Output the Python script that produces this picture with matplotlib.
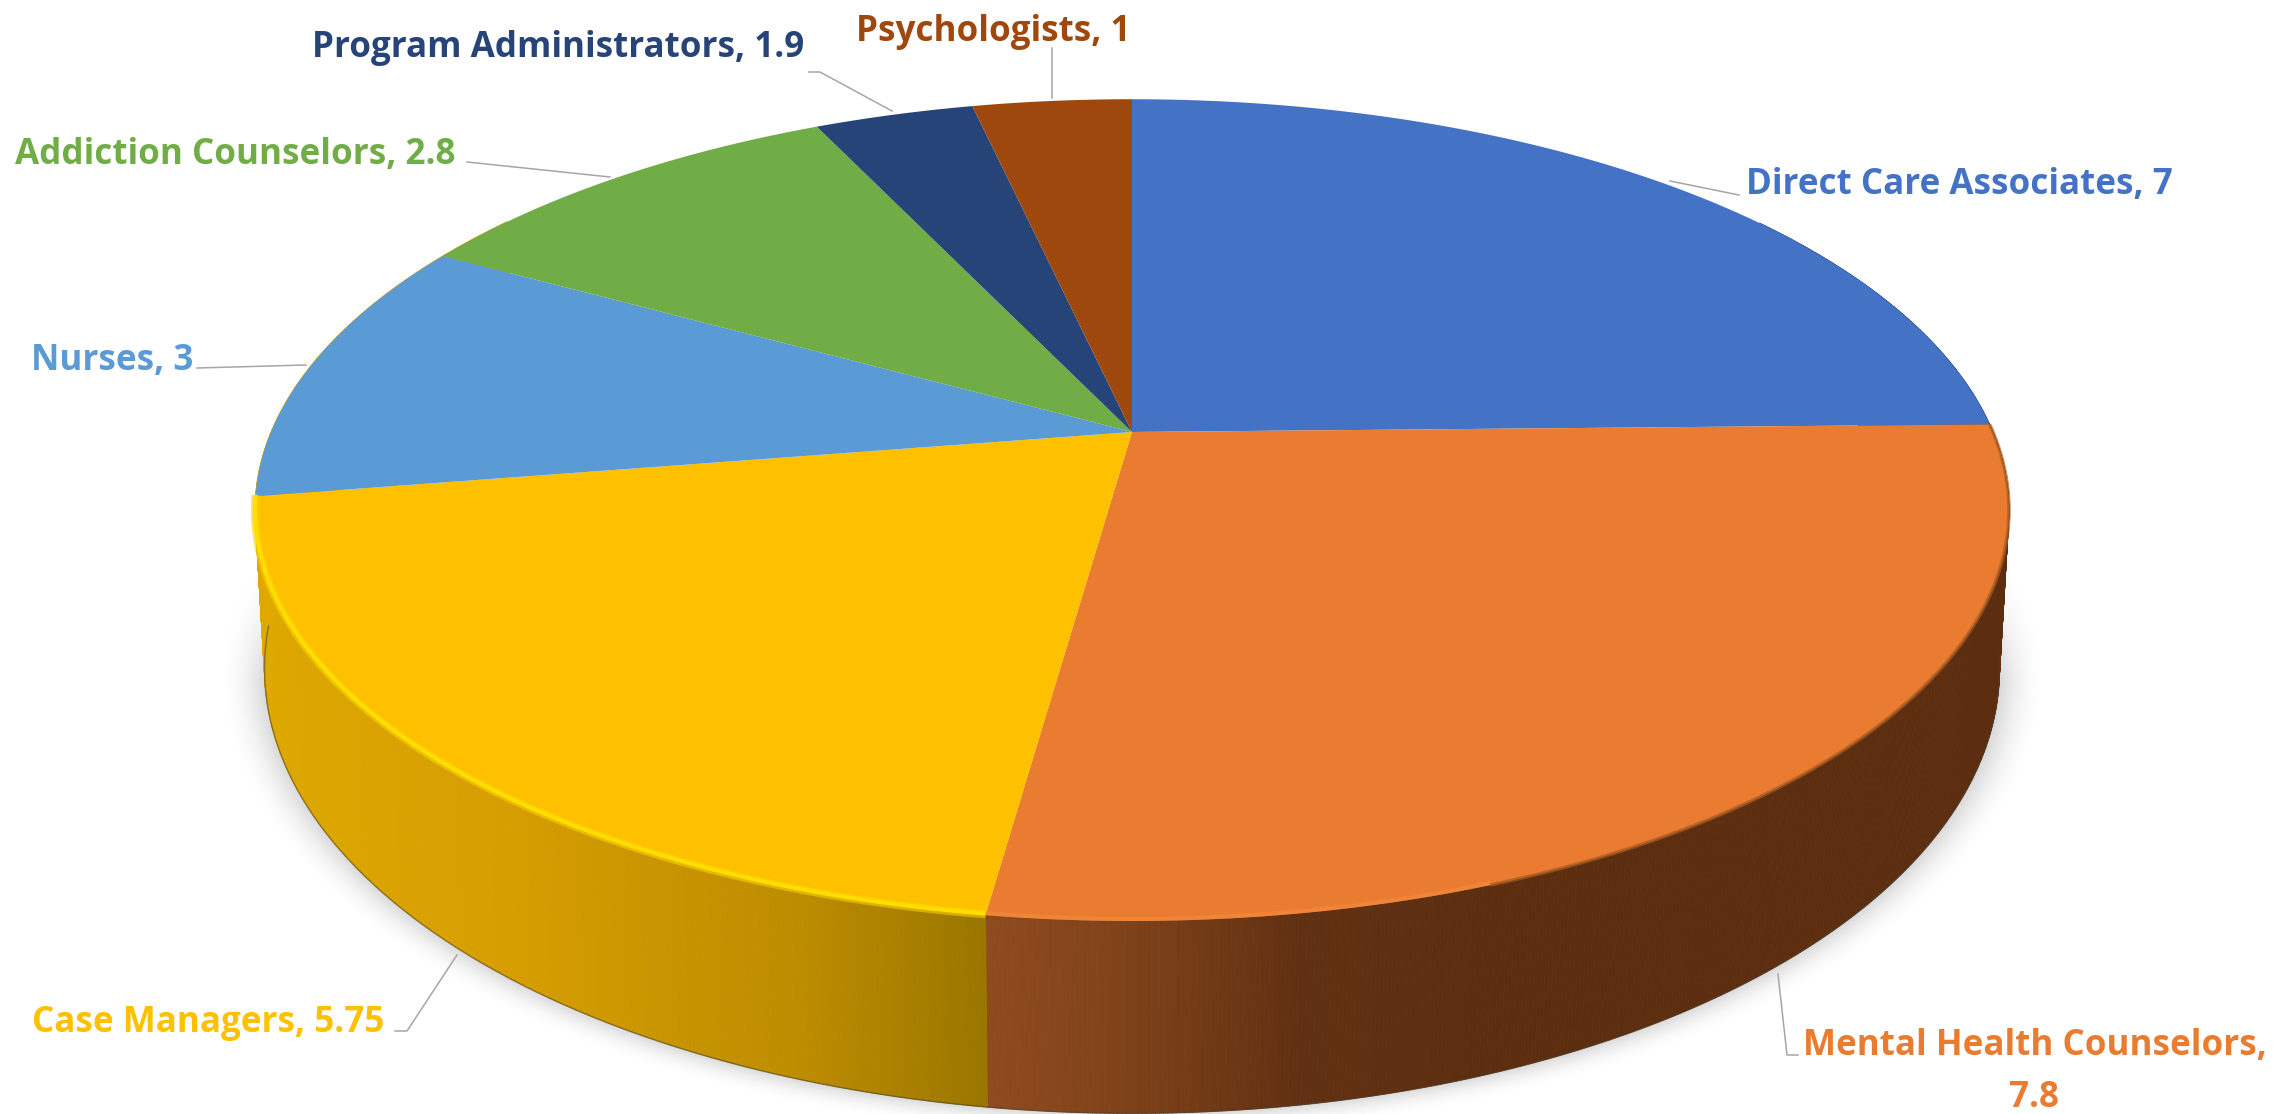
import numpy as np
import matplotlib
matplotlib.use("Agg")
import matplotlib.pyplot as plt
from matplotlib.collections import PolyCollection
from matplotlib.colors import to_rgb

categories = ["Direct Care Associates", "Mental Health Counselors", "Case Managers",
              "Nurses", "Addiction Counselors", "Program Administrators", "Psychologists"]
label_values = ["7", "7.8", "5.75", "3", "2.8", "1.9", "1"]
# the wedge of Program Administrators is drawn the same size as Psychologists in the picture
slice_values = [7, 7.8, 5.75, 3, 2.8, 1, 1]
colors = ["#4472C4", "#E97C30", "#FFC000", "#5B9BD5", "#70AD47", "#264478", "#9E480E"]

W, H = 2295, 1114

# perspective of the two discs: centre x, apex y, half width, depth, tilt
TOP = (1132, 432, 861, 396, 0.19)
BOTTOM = (1132, 585, 852, 429, 0.188)


def project(theta, disc):
    cx, cy, a, b, k = disc
    s, c = np.sin(theta), np.cos(theta)
    return cx + a * s / (1 + k * c), cy - b * c / (1 + k * c)


def wall_color(x, i):
    if i == 1:
        stops = [990, 1120, 1300, 1500, 2020]
        return (np.interp(x, stops, [0.56, 0.50, 0.38, 0.36, 0.36]),
                np.interp(x, stops, [0.29, 0.26, 0.19, 0.18, 0.18]),
                np.interp(x, stops, [0.12, 0.10, 0.07, 0.06, 0.06]))
    if i >= 2:
        stops = [250, 500, 800, 990]
        return (np.interp(x, stops, [0.87, 0.84, 0.74, 0.60]),
                np.interp(x, stops, [0.66, 0.62, 0.55, 0.46]), 0.0)
    return tuple(0.55 * v for v in to_rgb(colors[i]))


def draw_shadow(ax):
    xx, yy = np.meshgrid(np.arange(0, W, 2), np.arange(0, H, 2))
    r = np.sqrt(((xx - 1132) / 868.0) ** 2 + ((yy - 668) / 444.0) ** 2)
    f = np.clip(1 - (r - 1) / 0.055, 0, 1) ** 2
    f *= np.clip((yy - 560) / 120.0, 0, 1)
    ax.imshow(1 - 0.15 * f, cmap="gray", vmin=0, vmax=1, extent=(0, W, H, 0),
              interpolation="bilinear", zorder=0, aspect="auto")


def draw_pie(ax):
    angles = np.cumsum([0] + slice_values) / sum(slice_values) * 2 * np.pi

    # side wall, thin strips so the shading can follow x
    quads, face = [], []
    for i in range(len(slice_values)):
        steps = np.arange(angles[i], angles[i + 1], 0.004)
        steps = np.append(steps, angles[i + 1])
        for t0, t1 in zip(steps[:-1], steps[1:]):
            if not (np.pi * 0.3 < t0 < np.pi * 1.7):
                continue
            x0, y0 = project(t0, TOP)
            x1, y1 = project(t1, TOP)
            x2, y2 = project(t1, BOTTOM)
            x3, y3 = project(t0, BOTTOM)
            quads.append([(x0, y0), (x1, y1), (x2, y2), (x3, y3)])
            face.append(wall_color((x0 + x1) / 2, i))
    ax.add_collection(PolyCollection(quads, facecolors=face, edgecolors=face, linewidths=0.6, zorder=2))

    t = np.linspace(np.pi * 0.55, np.pi * 1.47, 300)
    bx, by = project(t, BOTTOM)
    ax.plot(bx, by, color="#4A4030", lw=1.0, alpha=0.55, zorder=3)

    # top face
    for i in range(len(slice_values)):
        t = np.linspace(angles[i], angles[i + 1], 200)
        x, y = project(t, TOP)
        ax.fill(np.r_[TOP[0], x], np.r_[TOP[1], y], color=colors[i], lw=0, zorder=4)

    # bevel along the front rim
    t = np.linspace(angles[2], angles[3], 300)
    x, y = project(t, TOP)
    ax.plot(x, y - 1, color="#FFD000", lw=6, alpha=0.6, zorder=5, solid_capstyle="butt")
    ax.plot(x, y - 1.5, color="#FFE000", lw=3, alpha=0.95, zorder=5, solid_capstyle="butt")
    t = np.linspace(np.radians(160), angles[2], 80)
    x, y = project(t, TOP)
    ax.plot(x, y - 2, color="#F58A3C", lw=3, alpha=0.6, zorder=5, solid_capstyle="butt")
    # soft edge where the orange top meets the dark wall
    t = np.linspace(angles[1], np.radians(160), 200)
    x, y = project(t, TOP)
    ax.plot(x, y, color="#A85A22", lw=2.5, alpha=0.7, zorder=5, solid_capstyle="butt")


def draw_labels(ax):
    font = dict(family="Open Sans", fontsize=25.2, fontweight="bold", va="center")
    spots = [(1746, 185), (1803, 1046), (32, 1023), (31, 361), (15, 155), (312, 48), (856, 32)]
    for i, name in enumerate(categories):
        text = f"{name}, {label_values[i]}"
        ax.text(spots[i][0], spots[i][1], text if i != 1 else name + ",", color=colors[i], ha="left", **font)
    ax.text(2034, 1098, label_values[1], color=colors[1], ha="center", **font)

    leaders = [[(1670, 181), (1739, 195)],
               [(1778, 974), (1787, 1055), (1798, 1055)],
               [(395, 1031), (407, 1031), (457, 955)],
               [(197, 368), (306, 365)],
               [(467, 162), (610, 177)],
               [(809, 72), (820, 72), (892, 111)],
               [(1052, 48), (1052, 98)]]
    for pts in leaders:
        ax.plot(*zip(*pts), color="#A6A6A6", lw=1.1, zorder=6)


fig = plt.figure(figsize=(W / 100, H / 100), dpi=100)
ax = fig.add_axes([0, 0, 1, 1])

draw_shadow(ax)
draw_pie(ax)
draw_labels(ax)

ax.set_xlim(0, W)
ax.set_ylim(H, 0)
ax.axis("off")

fig.savefig("out.png", dpi=100)
